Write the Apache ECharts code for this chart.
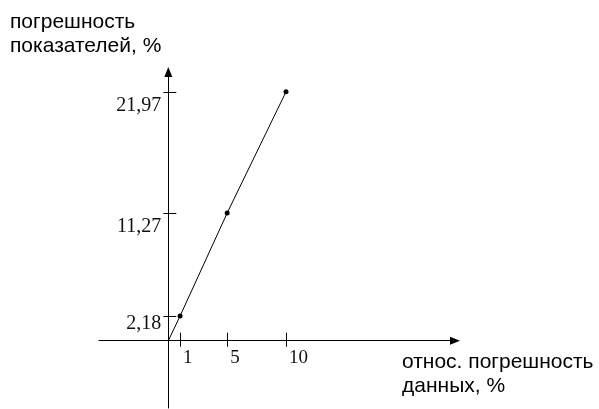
<!DOCTYPE html>
<html>
<head>
<meta charset="utf-8">
<script src="https://cdn.jsdelivr.net/npm/echarts@6/dist/echarts.min.js"></script>
<style>
html,body{margin:0;padding:0;background:#fff;}
#chart{width:599px;height:409px;}
</style>
</head>
<body>
<div id="chart"></div>
<script>
// Data
const xValues = [0, 1, 5, 10];
const yValues = [0, 2.18, 11.27, 21.97];
const xTicks = [1, 5, 10];
const yTicks = [2.18, 11.27, 21.97];
const yTitle = 'погрешность\nпоказателей, %';
const xTitle = 'относ. погрешность\nданных, %';

const fmt = v => String(v).replace('.', ',');
const serif = 'Liberation Serif, Times New Roman, serif';
const sans = 'Liberation Sans, Arial, sans-serif';

const X_MIN = -5.89, X_MAX = 24.36, Y_MIN = -5.94, Y_MAX = 23.72;

const chart = echarts.init(document.getElementById('chart'), null, {renderer: 'canvas'});

chart.setOption({
  animation: false,
  backgroundColor: '#fff',
  grid: [
    // full area: axis lines crossing at zero, ticks
    {left: 99, right: 144, top: 72, bottom: 1, containLabel: false, outerBoundsMode: 'none'},
    // positive quadrant: used only to place the tick labels next to the origin
    {left: 168.3, right: 144, top: 72, bottom: 68.3, containLabel: false, outerBoundsMode: 'none'}
  ],
  xAxis: [{
    gridIndex: 0, type: 'value', min: X_MIN, max: X_MAX, position: 'bottom',
    axisLine: {onZero: true, onZeroAxisIndex: 0, symbol: ['none', 'triangle'], symbolSize: [8, 10],
      lineStyle: {color: '#000', width: 1}},
    splitLine: {show: false},
    axisTick: {show: true, customValues: xTicks, length: 6, inside: false, lineStyle: {color: '#000'}},
    axisLabel: {show: false}
  }, {
    gridIndex: 0, type: 'value', min: X_MIN, max: X_MAX, position: 'bottom',
    axisLine: {show: false, onZero: true, onZeroAxisIndex: 0},
    splitLine: {show: false},
    axisTick: {show: true, customValues: xTicks, length: 8, inside: true, lineStyle: {color: '#000'}},
    axisLabel: {show: false}
  }, {
    gridIndex: 1, type: 'value', min: 0, max: X_MAX, position: 'bottom',
    axisLine: {show: false, onZero: false},
    splitLine: {show: false},
    axisTick: {show: false},
    axisLabel: {show: true, customValues: xTicks, formatter: fmt, align: 'left', margin: 8,
      padding: [0, 0, 0, 3], hideOverlap: false,
      fontFamily: serif, fontSize: 19, color: '#111'}
  }],
  yAxis: [{
    gridIndex: 0, type: 'value', min: Y_MIN, max: Y_MAX, position: 'left',
    axisLine: {onZero: true, onZeroAxisIndex: 0, symbol: ['none', 'triangle'], symbolSize: [8, 10],
      lineStyle: {color: '#000', width: 1}},
    splitLine: {show: false},
    axisTick: {show: true, customValues: yTicks, length: 5, inside: false, lineStyle: {color: '#000'}},
    axisLabel: {show: false}
  }, {
    gridIndex: 0, type: 'value', min: Y_MIN, max: Y_MAX, position: 'left',
    axisLine: {show: false, onZero: true, onZeroAxisIndex: 0},
    splitLine: {show: false},
    axisTick: {show: true, customValues: yTicks, length: 8, inside: true, lineStyle: {color: '#000'}},
    axisLabel: {show: false}
  }, {
    gridIndex: 1, type: 'value', min: 0, max: Y_MAX, position: 'left',
    axisLine: {show: false, onZero: false},
    splitLine: {show: false},
    axisTick: {show: false},
    axisLabel: {show: true, customValues: yTicks, margin: 7, verticalAlign: 'top', hideOverlap: false,
      formatter: v => (v < 5 ? '{lo|' : '{hi|') + fmt(v) + '}',
      rich: {
        hi: {fontFamily: serif, fontSize: 20, lineHeight: 27, color: '#111'},
        lo: {fontFamily: serif, fontSize: 20, lineHeight: 15, color: '#111'}
      }}
  }],
  graphic: [
    {type: 'text', left: 10, top: 10, style: {text: yTitle, font: '21px ' + sans, lineHeight: 24, fill: '#000'}},
    {type: 'text', left: 402, top: 350, style: {text: xTitle, font: '21px ' + sans, lineHeight: 24, fill: '#000'}}
  ],
  series: [{
    type: 'line',
    xAxisIndex: 0, yAxisIndex: 0,
    data: xValues.map((x, i) => [x, yValues[i]]),
    symbol: 'circle',
    symbolSize: (val, params) => params.dataIndex === 0 ? 0 : 5,
    showSymbol: true,
    lineStyle: {color: '#000', width: 1},
    itemStyle: {color: '#000'}
  }]
});
</script>
</body>
</html>
